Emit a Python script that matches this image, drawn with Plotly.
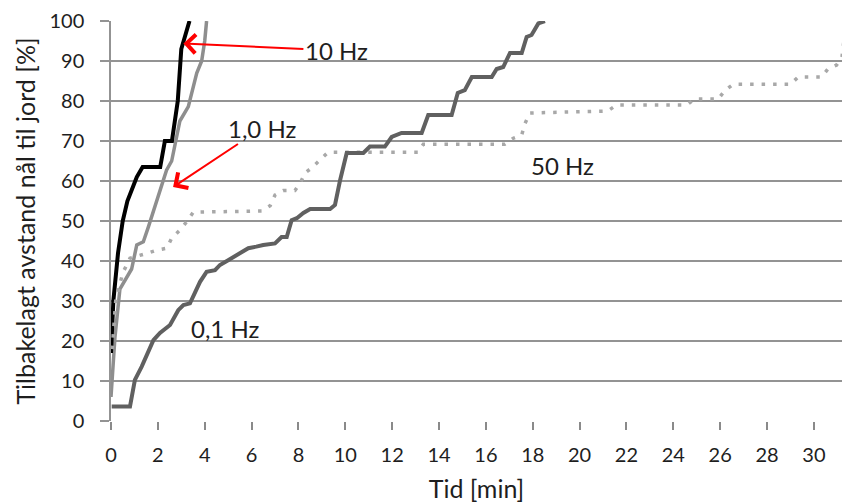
import plotly.graph_objects as go

# ---- data ----
x_10hz = [0.0, 0.1, 0.3, 0.5, 0.7, 0.9, 1.1, 1.35, 2.1, 2.3, 2.6, 2.85, 3.0, 3.35]
y_10hz = [17, 30, 42, 50, 55, 58, 61, 63.5, 63.5, 70, 70, 80, 93, 100]

x_1hz = [0.0, 0.17, 0.38, 0.88, 1.1, 1.38, 1.6, 2.02, 2.37, 2.59, 2.73, 2.94, 3.3, 3.66, 3.87, 4.0, 4.08]
y_1hz = [6, 21, 33, 38, 44, 44.8, 48.6, 56, 62.7, 65, 69.4, 75, 78.6, 87, 90, 95, 100]

x_01hz = [0.03, 0.81, 1.02, 1.31, 1.81, 2.09, 2.52, 2.87, 3.09, 3.37, 3.8, 4.08, 4.44, 4.65,
          5.0, 5.22, 5.65, 5.86, 6.2, 6.5, 7.0, 7.28, 7.5, 7.71, 7.93, 8.21, 8.5, 9.35, 9.56,
          9.77, 10.06, 10.77, 11.05, 11.69, 11.98, 12.4, 13.26, 13.54, 14.54, 14.8, 15.1, 15.4,
          16.25, 16.46, 16.74, 17.03, 17.53, 17.74, 17.95, 18.24, 18.52]
y_01hz = [3.6, 3.6, 10.3, 13.6, 20.2, 22, 24, 27.7, 29, 29.4, 34.8, 37.3, 37.7, 39,
          40.2, 41, 42.3, 43.2, 43.6, 44, 44.4, 46, 46, 50.2, 50.7, 52, 53, 53, 54,
          60, 67, 67, 68.6, 68.6, 71, 72, 72, 76.5, 76.5, 82, 82.7, 86,
          86, 88, 88.5, 92, 92, 96, 96.5, 99.4, 100]

x_50hz = [0.05, 0.2, 0.5, 0.81, 1.52, 1.95, 2.38, 2.59, 2.94, 3.23, 3.51, 6.43, 6.79, 7.0, 7.35,
          7.85, 8.07, 8.28, 8.57, 8.92, 9.27, 13.1, 13.33, 16.8, 17.17, 17.53, 17.67, 17.88,
          21.2, 21.58, 24.57, 24.92, 25.92, 26.2, 26.56, 29.0, 29.33, 30.33, 30.6, 30.97,
          31.2, 31.3, 31.5]
y_50hz = [18, 30, 37, 40.7, 41.9, 42.7, 43.2, 45.7, 47.7, 49.8, 52.2, 52.5, 53.8, 56.5, 57.6,
          57.6, 59.4, 62, 63.3, 65.4, 67.2, 67.2, 69.2, 69.2, 70.7, 71.5, 74.4, 77,
          77.5, 79, 79, 80.5, 80.5, 82.6, 84.2, 84.2, 86, 86, 88, 89,
          91, 96, 100]

x_ticks = list(range(0, 32, 2))
y_ticks = list(range(0, 101, 10))

FONT = "Lato"
TXT = "#1e1e1e"

fig = go.Figure()
fig.add_trace(go.Scatter(x=x_1hz, y=y_1hz, mode="lines", name="1,0 Hz",
                         line=dict(color="#8e8e8e", width=3.5)))
fig.add_trace(go.Scatter(x=x_10hz, y=y_10hz, mode="lines", name="10 Hz",
                         line=dict(color="#000000", width=4)))
fig.add_trace(go.Scatter(x=x_50hz, y=y_50hz, mode="lines", name="50 Hz",
                         line=dict(color="#a8a8a8", width=3.5, dash="3.5px,8px")))
fig.add_trace(go.Scatter(x=x_01hz, y=y_01hz, mode="lines", name="0,1 Hz",
                         line=dict(color="#606060", width=4)))

# labels with red arrows
fig.add_annotation(x=3.09, y=94.4, xref="x", yref="y", text="10 Hz", showarrow=True,
                   ax=153, ay=7, arrowcolor="#ff0000", arrowwidth=2, arrowhead=4,
                   arrowsize=1.8, font=dict(family=FONT, size=24, color=TXT))
fig.add_annotation(x=2.65, y=58.5, xref="x", yref="y", text="1,0 Hz", showarrow=True,
                   ax=89, ay=-59, arrowcolor="#ff0000", arrowwidth=2, arrowhead=4,
                   arrowsize=1.8, font=dict(family=FONT, size=24, color=TXT))
fig.add_annotation(x=4.87, y=23.25, xref="x", yref="y", text="0,1 Hz", showarrow=False,
                   font=dict(family=FONT, size=24, color=TXT))
fig.add_annotation(x=19.25, y=64, xref="x", yref="y", text="50 Hz", showarrow=False,
                   font=dict(family=FONT, size=24, color=TXT))

fig.update_layout(
    width=842, height=504,
    margin=dict(l=111, r=0, t=21, b=83),
    paper_bgcolor="white", plot_bgcolor="white",
    showlegend=False,
    font=dict(family=FONT, size=20, color=TXT),
)
fig.update_xaxes(
    range=[0, 31.2], tickvals=x_ticks, ticktext=[str(v) for v in x_ticks],
    showgrid=False, zeroline=False, showline=False,
    ticks="outside", ticklen=8, tickcolor="#8a8a8a", tickwidth=1.5,
    ticklabelstandoff=8,
    title=dict(text="Tid [min]", font=dict(family=FONT, size=25, color=TXT), standoff=15),
)
fig.update_yaxes(
    range=[0, 100], tickvals=y_ticks, ticktext=[str(v) for v in y_ticks],
    showgrid=True, gridcolor="#939393", gridwidth=1.5,
    zeroline=False, showline=True, linecolor="#939393", linewidth=1.5,
    ticks="outside", ticklen=9, tickcolor="#939393", tickwidth=1.5,
    ticklabelstandoff=12,
    title=dict(text="Tilbakelagt avstand nål til jord [%]",
               font=dict(family=FONT, size=25, color=TXT), standoff=7),
)

fig.write_html("out.html")
